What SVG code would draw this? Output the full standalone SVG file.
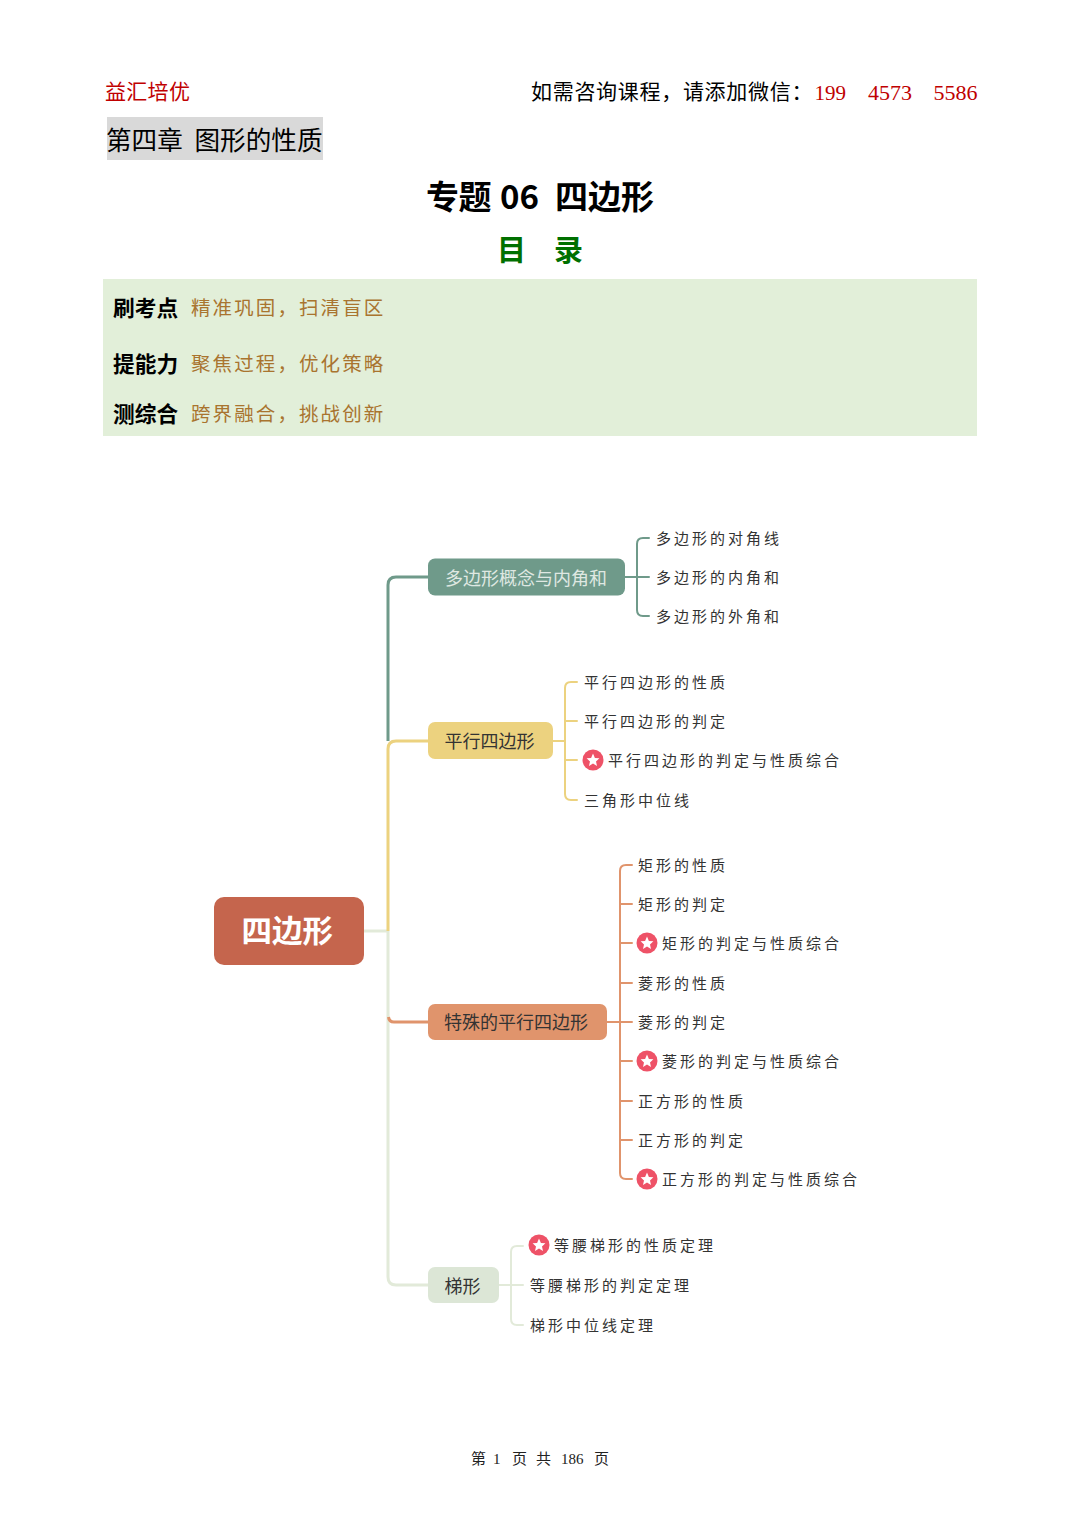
<svg xmlns="http://www.w3.org/2000/svg" width="1080" height="1527" viewBox="0 0 1080 1527">
<style>
text{font-family:"Noto Sans CJK SC","Noto Sans",sans-serif;dominant-baseline:alphabetic}
.num{font-family:"Liberation Serif","Noto Sans CJK SC",serif}
.hd{font-size:21px}
.numhd{font-size:22px}
.lab{font-size:21.7px;font-weight:700;fill:#000}
.tip{font-size:19.5px;fill:#a9742f;letter-spacing:2.1px}
.node{font-size:18px}
.leaf{font-size:15px;fill:#333;letter-spacing:3px}
.c{fill:none;stroke-width:2;stroke-linecap:round}
.m{fill:none;stroke-width:3}
.star{fill:#ee5267}
.sp{fill:#fff}
</style>
<defs>
<g id="star"><circle r="10.5" class="star"/><polygon class="sp" points="0,-6.4 1.9,-2.1 6.4,-1.7 3,1.4 4,6 0,3.6 -4,6 -3,1.4 -6.4,-1.7 -1.9,-2.1"/></g>
</defs>
<rect width="1080" height="1527" fill="#fff"/>

<g id="header">
<text x="105" y="99" class="hd" fill="#c00000" letter-spacing="0.3">益汇培优</text>
<text x="531" y="99" class="hd" fill="#000" letter-spacing="0.7">如需咨询课程，请添加微信：</text>
<text x="814.500" y="100" class="num" font-size="21" fill="#c00000">199</text>
<text x="868" y="100" class="num numhd" fill="#c00000">4573</text>
<text x="933.500" y="100" class="num numhd" fill="#c00000">5586</text>
<rect x="107" y="117" width="216" height="43" fill="#d9d9d9"/>
<text x="106" y="150" font-size="25.6" fill="#000">第四章</text>
<text x="194.500" y="150" font-size="25.6" fill="#000">图形的性质</text>
<text x="426" y="209" font-size="33" font-weight="700" letter-spacing="-0.5" fill="#000">专题</text>
<text x="500" y="209" font-size="33" font-weight="700" fill="#000">06</text>
<text x="555" y="209" font-size="33" font-weight="700" fill="#000">四边形</text>
<text x="497" y="261" font-size="29" font-weight="700" fill="#007000">目</text>
<text x="554" y="261" font-size="29" font-weight="700" fill="#007000">录</text>
</g>

<g id="panel">
<rect x="103" y="279" width="874" height="157" fill="#e2efd9"/>
<text x="113" y="316" class="lab">刷考点</text>
<text x="191" y="315" class="tip">精准巩固，扫清盲区</text>
<text x="113" y="372" class="lab">提能力</text>
<text x="191" y="371" class="tip">聚焦过程，优化策略</text>
<text x="113" y="422" class="lab">测综合</text>
<text x="191" y="421" class="tip">跨界融合，挑战创新</text>
</g>

<g id="connectors">
<path class="m" stroke="#e2ead9" d="M364 931H388"/>
<path class="m" stroke="#e2ead9" d="M388 931V1277Q388 1285 396 1285H428"/>
<path class="m" stroke="#6f9a8a" d="M388 741V585Q388 577 396 577H428"/>
<path class="m" stroke="#ecd27f" d="M388 931V749Q388 741 396 741H428"/>
<path class="m" stroke="#e0946c" d="M388.500 1017Q389 1022 394 1022H428"/>

<g stroke="#6f9a8a">
<path class="c" d="M625 577H649M649 538H643Q637 538 637 544V610Q637 616 643 616H649"/>
</g>
<g stroke="#ecd27f">
<path class="c" d="M553 741H565M577 682H571Q565 682 565 688V794Q565 800 571 800H577M565 721H577M565 760H577"/>
</g>
<g stroke="#e0946c">
<path class="c" d="M607 1022H632M632 865H626Q620 865 620 871V1173Q620 1179 626 1179H632M620 904H632M620 943H632M620 983H632M620 1061H632M620 1101H632M620 1140H632"/>
</g>
<g stroke="#e2ead9">
<path class="c" d="M499 1285H523M523 1246H517Q511 1246 511 1252V1319Q511 1325 517 1325H523"/>
</g>
</g>

<g id="root">
<rect x="214" y="897" width="150" height="68" rx="10" fill="#c5654d"/>
<text x="241.500" y="942" font-size="30.5" font-weight="700" fill="#fff">四边形</text>
</g>

<g id="n1">
<rect x="428" y="558.500" width="197" height="37" rx="7" fill="#6f9a8a"/>
<text x="445" y="585" class="node" fill="#dfe8e2">多边形概念与内角和</text>
</g>
<g id="n1-1"><text x="656" y="544" class="leaf">多边形的对角线</text></g>
<g id="n1-2"><text x="656" y="583" class="leaf">多边形的内角和</text></g>
<g id="n1-3"><text x="656" y="622" class="leaf">多边形的外角和</text></g>

<g id="n2">
<rect x="428" y="722" width="125" height="37" rx="7" fill="#ecd27f"/>
<text x="444.500" y="748" class="node" fill="#333">平行四边形</text>
</g>
<g id="n2-1"><text x="584" y="688" class="leaf">平行四边形的性质</text></g>
<g id="n2-2"><text x="584" y="727" class="leaf">平行四边形的判定</text></g>
<g id="n2-3"><use href="#star" x="593" y="760"/><text x="608" y="766" class="leaf">平行四边形的判定与性质综合</text></g>
<g id="n2-4"><text x="584" y="806" class="leaf">三角形中位线</text></g>

<g id="n3">
<rect x="428" y="1004" width="179" height="36" rx="7" fill="#e0946c"/>
<text x="444" y="1029" class="node" fill="#333">特殊的平行四边形</text>
</g>
<g id="n3-1"><text x="638" y="871" class="leaf">矩形的性质</text></g>
<g id="n3-2"><text x="638" y="910" class="leaf">矩形的判定</text></g>
<g id="n3-3"><use href="#star" x="647" y="943"/><text x="662" y="949" class="leaf">矩形的判定与性质综合</text></g>
<g id="n3-4"><text x="638" y="989" class="leaf">菱形的性质</text></g>
<g id="n3-5"><text x="638" y="1028" class="leaf">菱形的判定</text></g>
<g id="n3-6"><use href="#star" x="647" y="1061"/><text x="662" y="1067" class="leaf">菱形的判定与性质综合</text></g>
<g id="n3-7"><text x="638" y="1107" class="leaf">正方形的性质</text></g>
<g id="n3-8"><text x="638" y="1146" class="leaf">正方形的判定</text></g>
<g id="n3-9"><use href="#star" x="647" y="1179"/><text x="662" y="1185" class="leaf">正方形的判定与性质综合</text></g>

<g id="n4">
<rect x="428" y="1267" width="71" height="36" rx="7" fill="#dce6d6"/>
<text x="444.500" y="1293" class="node" fill="#333">梯形</text>
</g>
<g id="n4-1"><use href="#star" x="539" y="1245"/><text x="554" y="1251" class="leaf">等腰梯形的性质定理</text></g>
<g id="n4-2"><text x="530" y="1291" class="leaf">等腰梯形的判定定理</text></g>
<g id="n4-3"><text x="530" y="1330.500" class="leaf">梯形中位线定理</text></g>

<g id="footer">
<text x="471" y="1464" font-size="15" fill="#222">第</text>
<text x="493" y="1464" font-size="15" class="num" fill="#222">1</text>
<text x="512" y="1464" font-size="15" fill="#222">页</text>
<text x="536" y="1464" font-size="15" fill="#222">共</text>
<text x="561" y="1464" font-size="15" class="num" fill="#222">186</text>
<text x="594" y="1464" font-size="15" fill="#222">页</text>
</g>
</svg>
